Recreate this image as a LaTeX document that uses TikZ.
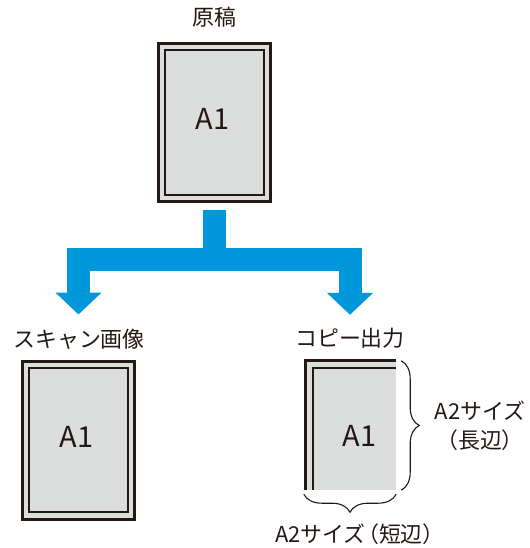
\documentclass[tikz,border=0pt]{standalone}
\usepackage{fontspec}
\usepackage{tikz}
\usetikzlibrary{arrows.meta,calc,decorations.pathreplacing}
\newfontfamily\jpfont{Noto Sans CJK JP}
\definecolor{Ink}{HTML}{231815}
\definecolor{Paper}{HTML}{DCDDDD}
\definecolor{Flow}{HTML}{0097DB}

\begin{document}
\begin{tikzpicture}[x=1bp,y=-1bp,
  pageouter/.style={rectangle,draw=Ink,line width=3bp,fill=Paper,inner sep=0pt,minimum width=112bp,minimum height=158bp},
  pageinner/.style={rectangle,draw=Ink,line width=2bp,inner sep=0pt,minimum width=99bp,minimum height=144bp},
  pagelabel/.style={font=\jpfont\fontsize{29}{32}\selectfont,text=Ink,inner sep=0pt},
  caption/.style={font=\jpfont\fontsize{22}{29}\selectfont,text=Ink,inner sep=0pt,align=center},
  flow/.style={-{Triangle[width=45bp,length=22bp]},line width=23bp,draw=Flow,line join=miter},
  sizebrace/.style={decorate,decoration={brace,amplitude=18bp},draw=Ink,line width=1.1bp}]
  \useasboundingbox (0,0) rectangle (530,548);

  % original
  \node[caption] (origtitle) at (214.5,17) {原稿};
  \node[pageouter] (origout) at (214.5,122.5) {};
  \node[pageinner] (origin) at (214.5,122.5) {};
  \node[pagelabel] (origA) at (212.5,119) {A1};

  % scanned image
  \node[caption] (scantitle) at (79,339) {スキャン画像};
  \node[pageouter] (scanout) at (78.5,440) {};
  \node[pageinner] (scanin) at (78.5,440) {};
  \node[pagelabel] (scanA) at (76.5,437) {A1};

  % copy output, cut to A2
  \node[caption] (copytitle) at (350,338) {コピー出力};
  \node[rectangle,fill=Paper,inner sep=0pt,minimum width=92bp,minimum height=131bp] (copyarea) at (350,424.5) {};
  \draw[Ink,line width=3bp] ($(copyarea.south west)+(1.5,0)$) |- ($(copyarea.north east)+(0,1.5)$);
  \draw[Ink,line width=2bp] ($(copyarea.south west)+(9,0)$) |- ($(copyarea.north east)+(0,9)$);
  \node[pagelabel] (copyA) at (359.5,436) {A1};

  \draw[sizebrace] ($(copyarea.north east)+(5,2)$) -- ($(copyarea.south east)+(5,0)$);
  \draw[sizebrace] ($(copyarea.south east)+(0,4)$) -- ($(copyarea.south west)+(0,4)$);
  \node[caption] (longside) at (480,425.5) {A2サイズ\\（長辺）};
  \node[caption] (shortside) at (360,534) {A2サイズ\kern-.4em（短辺）};

  % blue branch arrow
  \draw[flow] ($(origout.south)+(0,7)$) -- ++(0,49.5) -| ($(scanout.north)+(0,-45)$);
  \draw[flow] ($(origout.south)+(0,7)$) -- ++(0,49.5) -| ($(copyarea.north)+(0,-44)$);
\end{tikzpicture}
\end{document}
